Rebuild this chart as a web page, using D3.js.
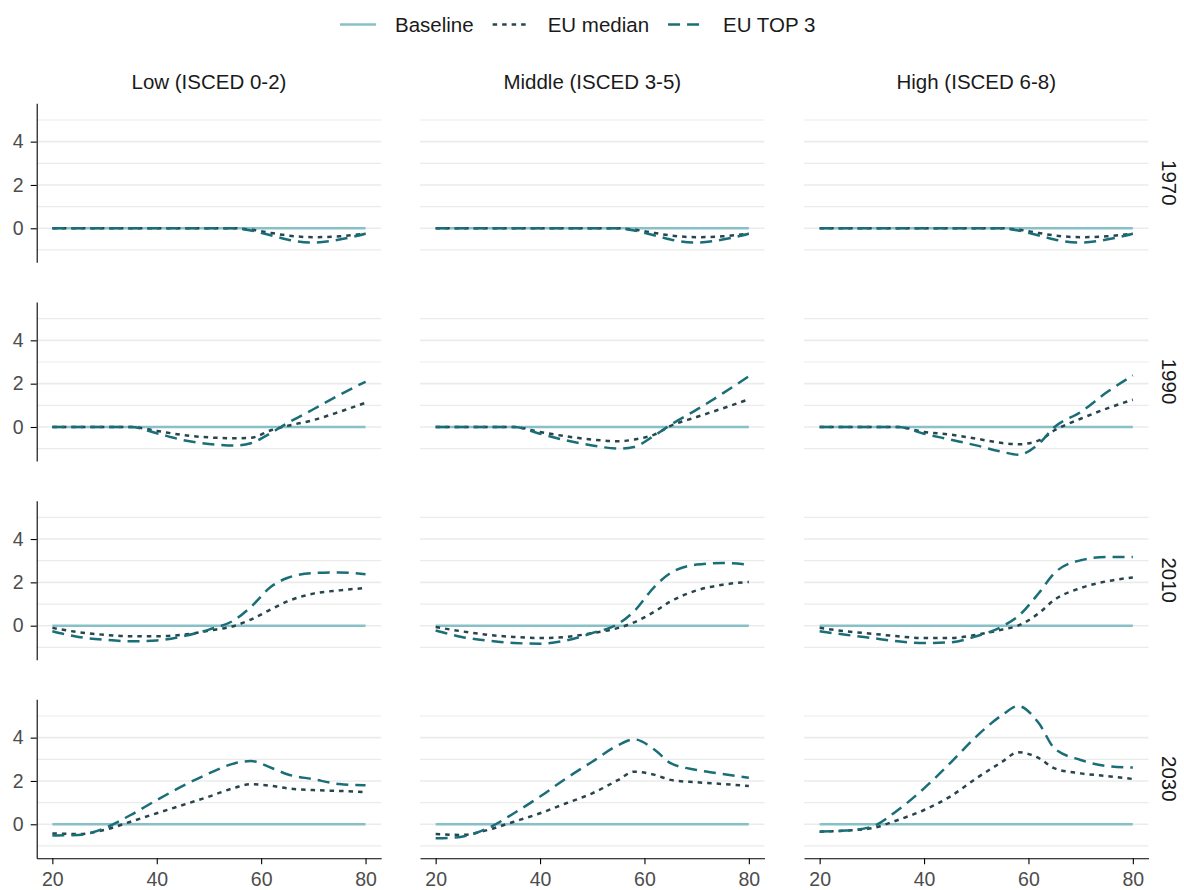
<!DOCTYPE html>
<html>
<head>
<meta charset="utf-8">
<script src="https://cdn.jsdelivr.net/npm/d3@7"></script>
<style>
  body { margin: 0; background: #fff; }
  svg { font-family: "Liberation Sans", Arial, sans-serif; }
</style>
</head>
<body>
<svg width="1184" height="890"></svg>
<script>
// DATA

const ages = [20, 25, 30, 35, 40, 45, 50, 55, 58, 62, 65, 70, 75, 80];
const levels = ["Low (ISCED 0-2)", "Middle (ISCED 3-5)", "High (ISCED 6-8)"];
const years = ["1970", "1990", "2010", "2030"];
const seriesNames = ["Baseline", "EU median", "EU TOP 3"];

const baseline = [0, 0, 0, 0, 0, 0, 0, 0, 0, 0, 0, 0, 0, 0];

// each array: [low, middle, high]
const median1970 = [
    [0, 0, 0, 0, 0, 0, 0, 0, -0.06, -0.22, -0.33, -0.41, -0.37, -0.25],
    [0, 0, 0, 0, 0, 0, 0, 0, -0.06, -0.22, -0.33, -0.41, -0.37, -0.25],
    [0, 0, 0, 0, 0, 0, 0, 0, -0.06, -0.22, -0.33, -0.41, -0.37, -0.25]
];
const top1970 = [
    [0, 0, 0, 0, 0, 0, 0, 0, -0.1, -0.33, -0.52, -0.66, -0.52, -0.25],
    [0, 0, 0, 0, 0, 0, 0, 0, -0.1, -0.33, -0.52, -0.66, -0.52, -0.25],
    [0, 0, 0, 0, 0, 0, 0, 0, -0.1, -0.33, -0.52, -0.66, -0.52, -0.25]
];
const median1990 = [
    [0, 0, 0, 0, -0.18, -0.37, -0.48, -0.52, -0.5, -0.14, 0.05, 0.32, 0.7, 1.12],
    [0, 0, 0, 0, -0.23, -0.43, -0.58, -0.66, -0.58, -0.34, 0.05, 0.46, 0.86, 1.28],
    [0, 0, 0, 0, -0.23, -0.35, -0.54, -0.74, -0.8, -0.62, -0.15, 0.38, 0.85, 1.26]
];
const top1990 = [
    [0, 0, 0, 0, -0.29, -0.6, -0.78, -0.86, -0.75, -0.26, 0.17, 0.82, 1.48, 2.09],
    [0, 0, 0, 0, -0.31, -0.62, -0.85, -1.0, -0.92, -0.38, 0.1, 0.8, 1.55, 2.34],
    [0, 0, 0, 0, -0.31, -0.58, -0.85, -1.15, -1.28, -0.77, 0, 0.69, 1.6, 2.38]
];
const median2010 = [
    [-0.1, -0.3, -0.42, -0.49, -0.49, -0.42, -0.23, 0, 0.28, 0.77, 1.12, 1.48, 1.63, 1.74],
    [-0.06, -0.26, -0.42, -0.52, -0.57, -0.52, -0.34, -0.1, 0.15, 0.66, 1.12, 1.63, 1.89, 2.02],
    [-0.1, -0.26, -0.37, -0.49, -0.57, -0.57, -0.42, -0.18, 0, 0.58, 1.2, 1.74, 2.05, 2.23]
];
const top2010 = [
    [-0.26, -0.52, -0.65, -0.72, -0.68, -0.49, -0.18, 0.28, 0.86, 1.82, 2.2, 2.43, 2.46, 2.38],
    [-0.22, -0.52, -0.69, -0.8, -0.83, -0.68, -0.34, 0.09, 0.66, 1.82, 2.43, 2.82, 2.89, 2.82],
    [-0.26, -0.42, -0.57, -0.72, -0.8, -0.77, -0.49, -0.03, 0.43, 1.51, 2.43, 3.02, 3.17, 3.17]
];
const median2030 = [
    [-0.42, -0.45, -0.26, 0.12, 0.51, 0.89, 1.28, 1.69, 1.85, 1.77, 1.66, 1.58, 1.54, 1.48],
    [-0.45, -0.49, -0.26, 0.12, 0.51, 0.97, 1.43, 2.05, 2.43, 2.28, 2.05, 1.94, 1.86, 1.77],
    [-0.34, -0.29, -0.18, 0.2, 0.66, 1.28, 2.12, 2.89, 3.33, 3.05, 2.58, 2.35, 2.23, 2.09]
];
const top2030 = [
    [-0.52, -0.49, -0.18, 0.43, 1.12, 1.77, 2.35, 2.82, 2.92, 2.6, 2.31, 2.08, 1.86, 1.8],
    [-0.65, -0.57, -0.18, 0.51, 1.28, 2.12, 2.89, 3.66, 3.92, 3.43, 2.82, 2.51, 2.32, 2.15],
    [-0.34, -0.29, -0.11, 0.66, 1.66, 2.82, 4.05, 5.05, 5.46, 4.66, 3.5, 2.97, 2.69, 2.62]
];

const xTicks = [20, 40, 60, 80];
const yMajor = [0, 2, 4];
const yMinor = [-1, 1, 3, 5];

// LAYOUT

var svg = d3.select("svg");

var panelLeft = [36.7, 420, 804];
var panelTop = [103.3, 302, 500.7, 699.3];
var panelWidth = 344.5, panelHeight = 159;

var colors = ["#88c0c7", "#27454c", "#1a6e77"];
var dashes = [null, "4.5,5", "12,7"];

var x = d3.scaleLinear().domain([17, 83]).range([0, panelWidth]);
var y = d3.scaleLinear().domain([-1.57, 5.77]).range([panelHeight, 0]);

var line = d3.line()
    .x((d, i) => x(ages[i]))
    .y(d => y(d))
    .curve(d3.curveMonotoneX);

var medianByYear = [median1970, median1990, median2010, median2030];
var topByYear = [top1970, top1990, top2010, top2030];

years.forEach((year, r) => {
    levels.forEach((level, c) => {
        let g = svg.append("g")
            .attr("transform", "translate(" + panelLeft[c] + "," + panelTop[r] + ")");

        // grid
        g.selectAll(".minor")
            .data(yMinor)
            .enter()
            .append("line")
            .attr("x1", 0).attr("x2", panelWidth)
            .attr("y1", d => y(d)).attr("y2", d => y(d))
            .attr("stroke", "#ebebeb")
            .attr("stroke-width", 1.2);
        g.selectAll(".major")
            .data(yMajor)
            .enter()
            .append("line")
            .attr("x1", 0).attr("x2", panelWidth)
            .attr("y1", d => y(d)).attr("y2", d => y(d))
            .attr("stroke", "#ebebeb")
            .attr("stroke-width", 1.6);

        // series
        let series = [baseline, medianByYear[r][c], topByYear[r][c]];
        series.forEach((values, s) => {
            g.append("path")
                .datum(values)
                .attr("d", line)
                .attr("fill", "none")
                .attr("stroke", colors[s])
                .attr("stroke-width", 2.5)
                .attr("stroke-dasharray", dashes[s]);
        });

        // y axis only on first column
        if (c == 0) {
            let ya = g.append("g")
                .call(d3.axisLeft(y).tickValues(yMajor).tickSize(6).tickSizeOuter(0).tickPadding(7));
            ya.select(".domain").attr("stroke", "#000").attr("stroke-width", 1.1);
            ya.selectAll(".tick line").attr("stroke", "#000").attr("stroke-width", 1.1);
            ya.selectAll(".tick text")
                .attr("fill", "#4d4d4d")
                .style("font-size", "19.5px")
                .style("font-family", "Liberation Sans, Arial, sans-serif");
        }

        // x axis only on last row
        if (r == years.length - 1) {
            let xa = g.append("g")
                .attr("transform", "translate(0," + panelHeight + ")")
                .call(d3.axisBottom(x).tickValues(xTicks).tickSize(6).tickSizeOuter(0).tickPadding(8));
            xa.select(".domain").attr("stroke", "#000").attr("stroke-width", 1.1);
            xa.selectAll(".tick line").attr("stroke", "#000").attr("stroke-width", 1.1);
            xa.selectAll(".tick text")
                .attr("fill", "#4d4d4d")
                .style("font-size", "19.5px")
                .style("font-family", "Liberation Sans, Arial, sans-serif");
        }

        // strips
        if (r == 0) {
            g.append("text")
                .attr("x", panelWidth / 2)
                .attr("y", -14)
                .attr("text-anchor", "middle")
                .attr("fill", "#1a1a1a")
                .style("font-size", "20.5px")
                .text(level);
        }
        if (c == levels.length - 1) {
            g.append("text")
                .attr("transform", "translate(" + (panelWidth + 21) + "," + (panelHeight / 2) + ") rotate(90)")
                .attr("text-anchor", "middle")
                .attr("dy", "0.35em")
                .attr("fill", "#1a1a1a")
                .style("font-size", "20.5px")
                .text(year);
        }
    });
});

// LEGEND

let legend = svg.append("g").attr("class", "legend");
let legend_x = 340, legend_y = 24.5, key_width = 36, key_gap = 19, item_gap = 19;

seriesNames.forEach((name, s) => {
    legend.append("line")
        .attr("x1", legend_x).attr("x2", legend_x + key_width)
        .attr("y1", legend_y).attr("y2", legend_y)
        .attr("stroke", colors[s])
        .attr("stroke-width", 2.5)
        .attr("stroke-dasharray", dashes[s]);
    let t = legend.append("text")
        .attr("x", legend_x + key_width + key_gap)
        .attr("y", legend_y)
        .attr("dy", "0.35em")
        .attr("fill", "#1a1a1a")
        .style("font-size", "20.5px")
        .text(name);
    legend_x += key_width + key_gap + t.node().getComputedTextLength() + item_gap;
});
</script>
</body>
</html>
